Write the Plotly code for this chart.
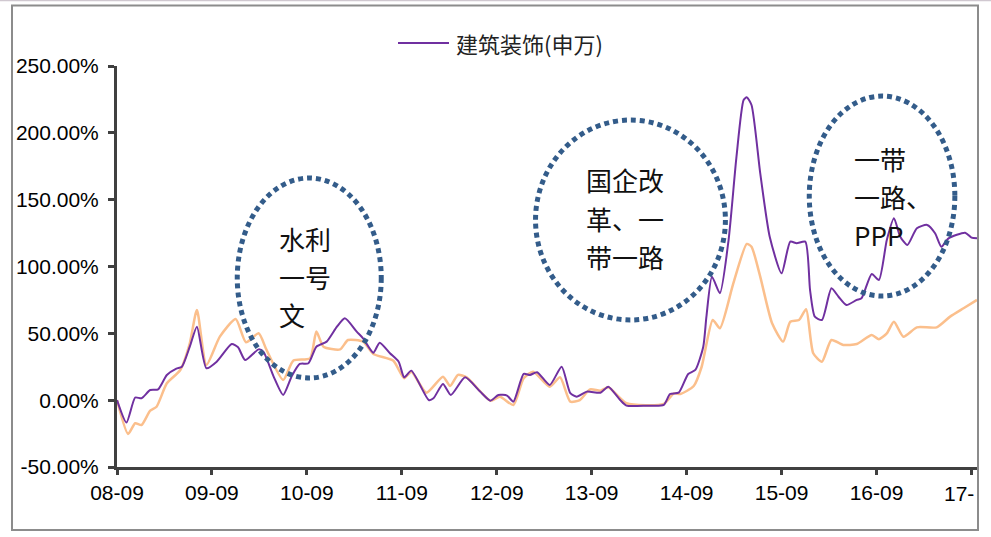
import plotly.graph_objects as go

# Month offsets counted from 2008-09, cumulative return in %
months_sw = [0, 1.2, 2.3, 3.1, 4.2, 5.2, 6.3, 7.5, 8.2, 9.2, 10.1, 11.3, 12.6, 14.5, 15.3,
             16.2, 17.9, 18.5, 19.8, 21.0, 22.1, 23.1, 24.2, 25.2, 26.5, 27.8, 28.8, 30.3,
             31.1, 32.4, 33.2, 34.5, 35.6, 36.3, 37.2, 39.4, 40.0, 41.2, 42.2, 44.0, 45.9,
             47.2, 48.2, 49.3, 50.1, 51.4, 52.2, 53.1, 54.7, 56.2, 57.3, 58.1, 59.4, 61.1,
             62.1, 63.6, 64.4, 67.0, 69.1, 69.9, 71.0, 72.2, 73.1, 74.1, 74.5, 75.2, 76.2,
             77.3, 78.3, 79.2, 79.6, 80.2, 81.3, 82.5, 84.0, 85.1, 85.9, 87.0, 87.6, 88.2,
             89.1, 90.3, 91.2, 92.2, 93.5, 94.1, 95.4, 96.3, 97.3, 98.2, 99.0, 99.9, 101.1,
             102.4, 103.4, 104.2, 105.1, 107.2, 108.0, 108.7]
values_sw = [0, -16.8, 2.0, 1.4, 7.6, 8.1, 18.8, 23.6, 25, 40, 55, 23.9, 28.8, 42, 39.6,
             30, 38, 36.3, 17.6, 3.9, 18.1, 27.1, 27.6, 40, 43.8, 55, 61.3, 51.3,
             46.3, 35.5, 43, 35.1, 28.8, 17.1, 22.1, 0.1, 1.4, 12.1, 3.9, 17.1, 6.4,
             -0.4, 3.9, 3.4, -1.1, 19.6, 18.9, 20.9, 11.4, 25, 5.2, 2.6, 6.4, 5.6,
             10.1, 0.1, -4.1, -4.1, -3.6, 4.6, 5.6, 19.6, 22.6, 40, 62.5, 92.4, 80,
             119.8, 182.2, 224.6, 226.6, 220.8, 169.8, 122.3, 94.9, 118.6, 117.4, 118.6, 82.4, 62.5,
             60, 83.7, 77.4, 71.2, 75, 76.2, 94.4, 89.9, 119.8, 136.1, 122.3, 116.1, 128.6,
             131.1, 124.9, 114.8, 121.1, 125.3, 121.6, 121.1]

months_ref = [0, 1.4, 2.3, 3.1, 4.2, 5.0, 6.3, 8.0, 9.2, 10.1, 11.3, 13.0, 15.0, 16.3, 17.9,
              18.9, 21.0, 22.3, 24.4, 25.2, 26.1, 28.2, 29.2, 31.1, 32.4, 34.9, 36.3, 37.2,
              39.1, 41.2, 42.1, 43.1, 44.2, 47.2, 48.4, 50.1, 51.4, 52.6, 54.7, 56.0, 57.3,
              58.5, 59.8, 61.1, 62.1, 64.4, 69.1, 70.4, 71.2, 72.9, 73.9, 75.3, 76.2, 77.9,
              79.6, 80.2, 81.3, 82.8, 84.2, 85.1, 86.2, 87.1, 88.0, 89.1, 90.3, 91.8, 93.5,
              95.4, 96.3, 97.3, 98.2, 99.4, 101.1, 103.6, 105.3, 107.0, 108.7]
values_ref = [0, -25.3, -17.3, -18.6, -7.8, -4.9, 12.6, 22.6, 42.6, 67.5, 26.3, 47.5, 60.7, 43.3, 50,
              37.6, 15.1, 29.6, 31.3, 51.3, 40, 38, 45, 43.8, 34.6, 29.6, 16.4, 21.3,
              5.6, 17.6, 10.6, 18.9, 17.1, -0.4, 2.6, -3.6, 16.4, 21.3, 10.1, 17.1, -1.1,
              0.1, 8.1, 7.1, 9.6, -2.3, -2.8, 5.1, 4.6, 10.6, 25, 60, 53.8, 87.4,
              116.9, 114.8, 92.4, 57.5, 43.8, 58.7, 60, 68, 35.1, 28.8, 45, 41.3, 42,
              48.8, 45.6, 50, 58.7, 47.5, 54.5, 54.5, 62.5, 68.8, 75]

tick_months = [0, 12, 24, 36, 48, 60, 72, 84, 96, 108]
tick_labels = ["08-09", "09-09", "10-09", "11-09", "12-09", "13-09", "14-09", "15-09", "16-09", "17-"]
y_ticks = [-50, 0, 50, 100, 150, 200, 250]
y_labels = [f"{v:.2f}%" for v in y_ticks]

series_name = "建筑装饰(申万)"
notes = [["水利", "一号", "文"], ["国企改", "革、一", "带一路"], ["一带", "一路、", "PPP"]]

PURPLE = "#7030A0"
ORANGE = "#FBBF8C"
DOT_BLUE = "#335C8A"
AXIS = "#404040"
TICK_FONT = dict(family="Liberation Sans, Arial", size=21, color="#000000")

W, H = 991, 537
L, R, T, B = 117, 14, 66, 70
PW, PH = W - L - R, H - T - B


def px_x(px):
    return (px - L) / PW


def px_y(py):
    return (H - B - py) / PH


fig = go.Figure()
fig.add_trace(go.Scatter(x=months_ref, y=values_ref, mode="lines", showlegend=False,
                         line=dict(color=ORANGE, width=2.5, shape="spline", smoothing=0.6),
                         hoverinfo="skip"))
fig.add_trace(go.Scatter(x=months_sw, y=values_sw, mode="lines", name=series_name, showlegend=False,
                         line=dict(color=PURPLE, width=2, shape="spline", smoothing=0.6)))

shapes = []
# dotted ellipses around policy periods (month range, % range)
for (x0, x1, y0, y1) in [(15.2, 33.4, 16.6, 166.2), (52.9, 76.9, 60.0, 209.6), (87.5, 105.9, 77.9, 227.5)]:
    shapes.append(dict(type="circle", xref="x", yref="y", x0=x0, x1=x1, y0=y0, y1=y1,
                       line=dict(color=DOT_BLUE, width=5, dash="5px,4px"), layer="above"))

# outer frame
shapes.append(dict(type="rect", xref="paper", yref="paper", x0=px_x(12), x1=px_x(978),
                   y0=px_y(530), y1=px_y(5.5), line=dict(color="#8C8C8C", width=2), layer="above"))
shapes.append(dict(type="line", xref="paper", yref="paper", x0=px_x(0), x1=px_x(W),
                   y0=px_y(0.5), y1=px_y(0.5), line=dict(color="#D0C8D0", width=1.5), layer="above"))
# legend sample line
shapes.append(dict(type="line", xref="paper", yref="paper", x0=px_x(398), x1=px_x(449),
                   y0=px_y(43), y1=px_y(43), line=dict(color=PURPLE, width=2)))

annotations = [
    dict(text=series_name, xref="paper", yref="paper", x=px_x(454), y=px_y(43),
         xanchor="left", yanchor="middle", showarrow=False,
         font=dict(family="Noto Sans CJK SC", size=22, color="#222222")),
    # last year label runs into the frame edge, only its start is shown
    dict(text=tick_labels[-1], xref="paper", yref="paper", x=px_x(942), y=px_y(494),
         xanchor="left", yanchor="middle", showarrow=False, font=TICK_FONT),
]
# note text, one line per annotation
for lines, (ax, ay) in zip(notes, [(277, 238), (584, 180), (852, 158)]):
    for i, line in enumerate(lines):
        annotations.append(dict(text=line, xref="paper", yref="paper", x=px_x(ax), y=px_y(ay + 38 * i),
                                xanchor="left", yanchor="middle", align="left", showarrow=False,
                                font=dict(family="Noto Sans CJK SC", size=26, color="#111111")))

fig.update_layout(
    width=W, height=H,
    margin=dict(l=L, r=R, t=T, b=B, pad=0),
    paper_bgcolor="white", plot_bgcolor="white",
    showlegend=False,
    shapes=shapes, annotations=annotations,
    font=TICK_FONT,
)
fig.update_xaxes(range=[0, 108.7], tickvals=tick_months, ticktext=tick_labels[:-1] + [""],
                 showgrid=False, zeroline=False, showline=True, linecolor=AXIS, linewidth=3,
                 ticks="outside", ticklen=5, tickwidth=3, tickcolor=AXIS,
                 automargin=False, tickfont=TICK_FONT)
fig.update_yaxes(range=[-50, 250], tickvals=y_ticks, ticktext=y_labels,
                 showgrid=False, zeroline=False, showline=True, linecolor=AXIS, linewidth=3,
                 ticks="outside", ticklen=6, tickwidth=3, tickcolor=AXIS,
                 automargin=False, ticklabelstandoff=5, tickfont=TICK_FONT)

fig.write_html("out.html")
